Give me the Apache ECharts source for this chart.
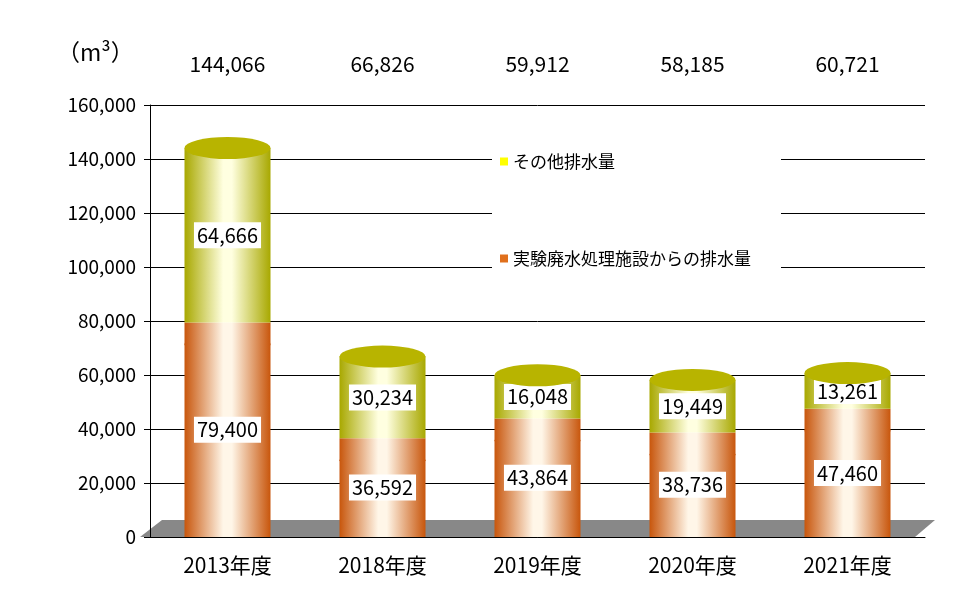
<!DOCTYPE html>
<html><head><meta charset="utf-8">
<script src="https://cdn.jsdelivr.net/npm/echarts@6/dist/echarts.min.js"></script>
<style>html,body{margin:0;background:#fff}#c{width:960px;height:604px}</style>
</head><body><div id="c"></div>
<script>
const categories = ['2013年度','2018年度','2019年度','2020年度','2021年度'];
const labWaste = [79400, 36592, 43864, 38736, 47460];
const otherWaste = [64666, 30234, 16048, 19449, 13261];
const totals = [144066, 66826, 59912, 58185, 60721];
const yTicks = [0,20000,40000,60000,80000,100000,120000,140000,160000];

const F = '"Noto Sans CJK JP","Noto Sans",sans-serif';
const fmt = v => v.toLocaleString('en-US');
const grad = (e,c) => new echarts.graphic.LinearGradient(0,0,1,0,[
  {offset:0,color:e},{offset:0.45,color:c},{offset:0.55,color:c},{offset:1,color:e}]);
const orange = grad('#c8560c','#fff6e8');
const yellow = grad('#a8a800','#ffffe0');
const W = 86, H = 22;
const valLabel = {show:true,position:'inside',formatter:p=>fmt(p.value),backgroundColor:'#fff',
  color:'#000',fontSize:20,fontFamily:F,padding:[3,3]};
const chart = echarts.init(document.getElementById('c'));
chart.setOption({
  animation:false,
  title:{text:'（m³）',left:52,top:36,textStyle:{fontSize:23,fontWeight:'normal',fontFamily:F,color:'#000'}},
  legend:{orient:'vertical',left:492,top:145,itemGap:80,itemWidth:8,itemHeight:8,icon:'rect',
    backgroundColor:'#fff',padding:[8,30,30,8],
    textStyle:{fontSize:17,fontFamily:F,color:'#000'},
    data:[{name:'その他排水量',itemStyle:{color:'#ffff00'}},{name:'実験廃水処理施設からの排水量',itemStyle:{color:'#e0701c'}}]},
  grid:{left:150,right:35,top:105,bottom:67},
  xAxis:[{type:'category',data:categories,axisTick:{show:false},axisLine:{lineStyle:{color:'#000'}},
    axisLabel:{fontSize:21,fontFamily:F,color:'#000',margin:18}},
    {type:'category',position:'top',data:totals.map(fmt),axisTick:{show:false},axisLine:{show:false},
    axisLabel:{fontSize:21,fontFamily:F,color:'#000',margin:30}}],
  yAxis:{type:'value',min:0,max:160000,interval:20000,
    axisLine:{show:true,lineStyle:{color:'#000'}},axisTick:{show:true,length:6,lineStyle:{color:'#000'}},
    splitLine:{lineStyle:{color:'#000'}},
    axisLabel:{fontSize:19,fontFamily:F,color:'#000',formatter:v=>fmt(v),margin:14}},
  graphic:[{type:'polygon',z:0,shape:{points:[[140,537],[162,520],[935,520],[915,537]]},style:{fill:'#888'}}],
  series:[
    {name:'実験廃水処理施設からの排水量',type:'bar',stack:'s',barWidth:W,data:labWaste,
      itemStyle:{color:orange},label:valLabel,z:2},
    {name:'その他排水量',type:'bar',stack:'s',barWidth:W,data:otherWaste,
      itemStyle:{color:yellow},label:valLabel,z:2},
    {type:'pictorialBar',symbol:'circle',symbolSize:[W,H],symbolPosition:'end',symbolOffset:[0,'50%'],
      data:labWaste,itemStyle:{color:orange},z:3,silent:true},
    {type:'pictorialBar',symbol:'circle',symbolSize:[W,H],symbolPosition:'end',symbolOffset:[0,'-50%'],
      data:totals,itemStyle:{color:'#b8b400'},z:4,silent:true}
  ]
});
</script></body></html>
